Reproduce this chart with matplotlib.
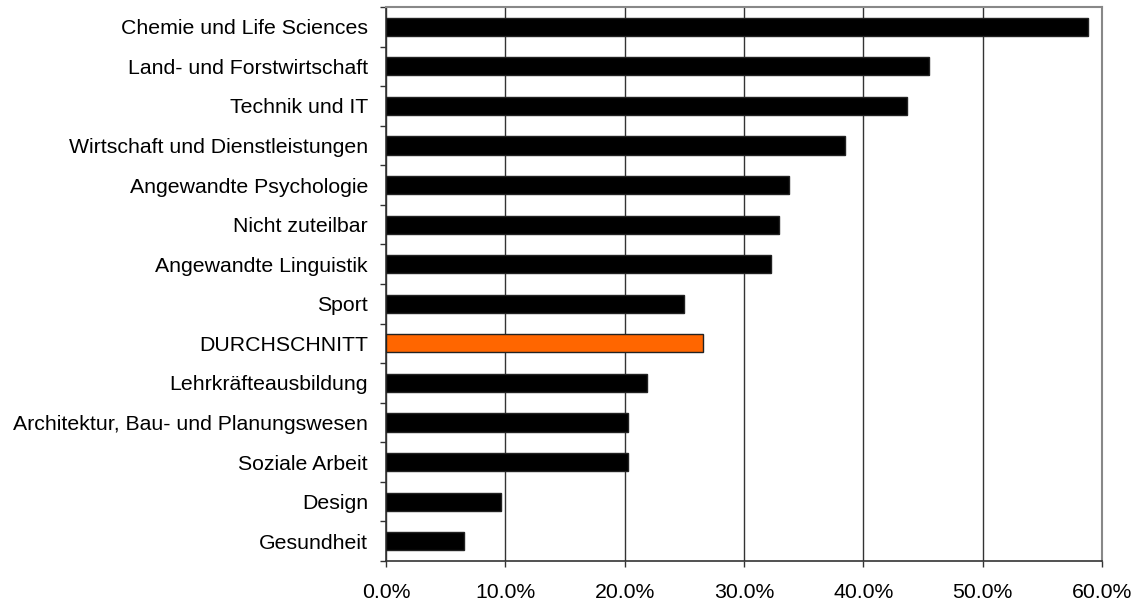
import numpy as np
import matplotlib.pyplot as plt
from matplotlib.ticker import FuncFormatter, FixedLocator

plt.rcParams['font.family'] = ['Liberation Sans', 'DejaVu Sans']

# categories from top to bottom, share in percent
categories = ['Chemie und Life Sciences', 'Land- und Forstwirtschaft', 'Technik und IT',
              'Wirtschaft und Dienstleistungen', 'Angewandte Psychologie', 'Nicht zuteilbar',
              'Angewandte Linguistik', 'Sport', 'DURCHSCHNITT', 'Lehrkräfteausbildung',
              'Architektur, Bau- und Planungswesen', 'Soziale Arbeit', 'Design', 'Gesundheit']
values = [58.8, 45.5, 43.7, 38.5, 33.8, 32.9, 32.3, 25.0, 26.6, 21.9, 20.3, 20.3, 9.6, 6.5]
highlight = 'DURCHSCHNITT'
xticks = [0, 10, 20, 30, 40, 50, 60]

fig = plt.figure(figsize=(11.38, 6.05), dpi=100)
ax = fig.add_axes([386/1138, 44/605, 716/1138, 554/605])

n = len(categories)
ypos = np.arange(n)[::-1]
colors = ['#ff6600' if c == highlight else 'black' for c in categories]
ax.barh(ypos, values, height=0.46, color=colors, edgecolor='#222222', linewidth=1, zorder=3)

ax.set_xlim(0, 60)
ax.set_ylim(-0.5, n - 0.5)
ax.set_xticks(xticks)
ax.xaxis.set_major_formatter(FuncFormatter(lambda v, p: '%.1f%%' % v))
ax.grid(axis='x', color='#333333', linewidth=1, zorder=0)

# category labels centred, tick marks at the boundaries
ax.set_yticks(ypos)
ax.set_yticklabels(categories, fontsize=15.3)
ax.yaxis.set_minor_locator(FixedLocator(np.arange(-0.5, n, 1)))
ax.tick_params(axis='y', which='major', length=0, pad=13)
ax.tick_params(axis='y', which='minor', length=4, width=1, color='#333333')
ax.tick_params(axis='x', length=4, width=1, pad=12, labelsize=15.3, color='#333333')

for side in ['top', 'right']:
    ax.spines[side].set_color('#888888')
    ax.spines[side].set_linewidth(1.5)
for side in ['left', 'bottom']:
    ax.spines[side].set_color('#333333')
    ax.spines[side].set_linewidth(1.2)

fig.savefig('out.png', dpi=100)
